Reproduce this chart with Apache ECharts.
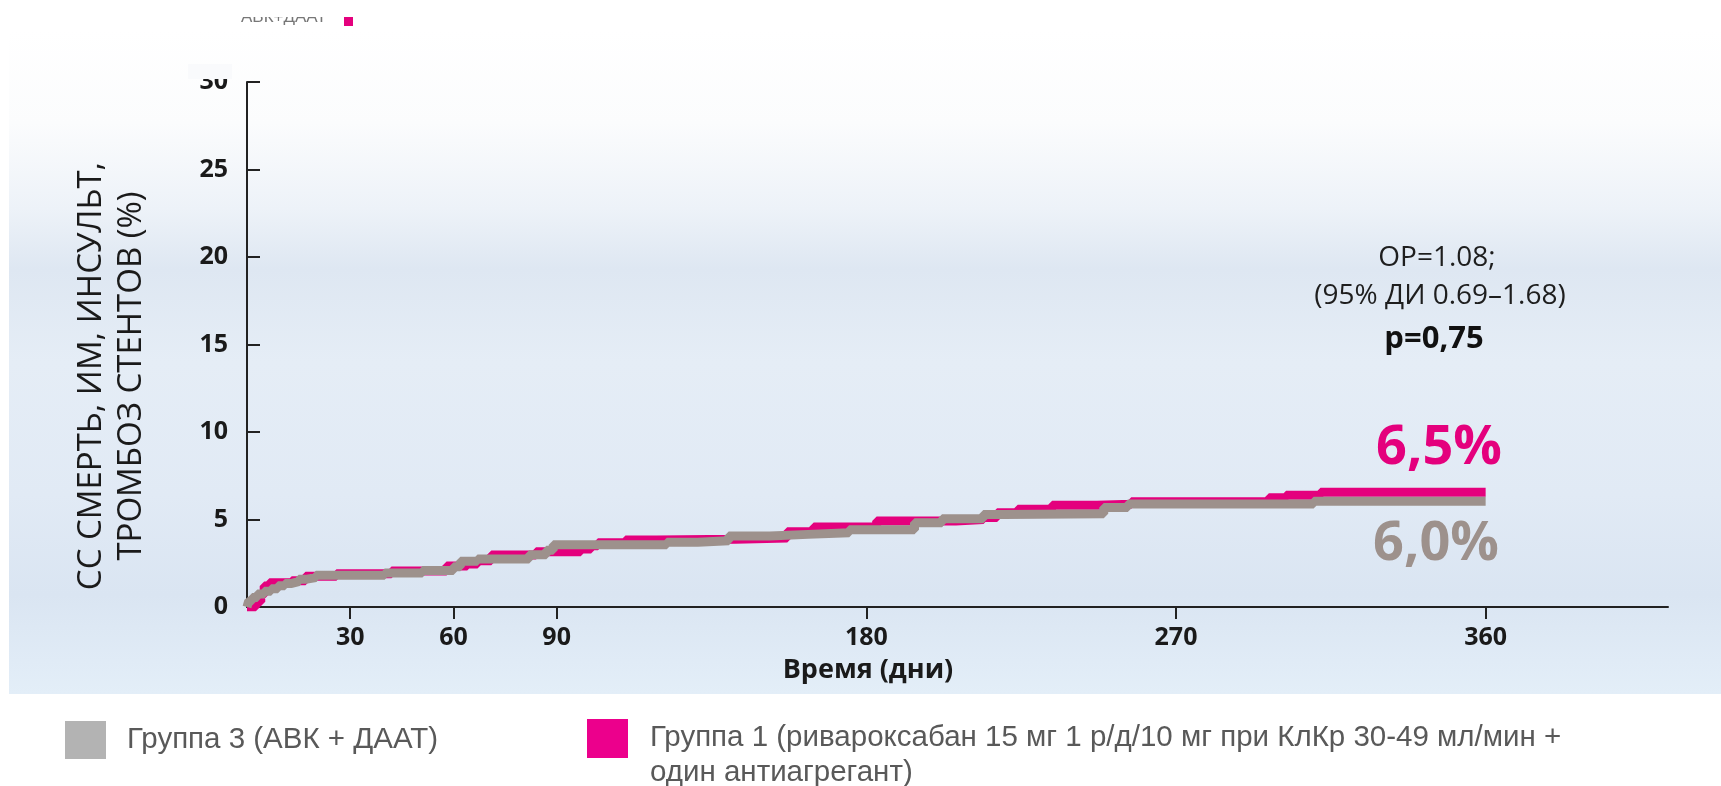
<!DOCTYPE html>
<html><head><meta charset="utf-8">
<script src="https://cdn.jsdelivr.net/npm/echarts@6/dist/echarts.min.js"></script>
<style>html,body{margin:0;padding:0;background:#fff}#c{width:1721px;height:786px}</style>
</head><body><div id="c"></div>
<script>
// Group 3 (gray) Kaplan–Meier steps: day -> %
const daysG3 = [0, 0.5, 1.5, 3, 5, 7, 9, 11, 13, 15, 17, 20, 40, 51, 60, 62, 67, 82, 87, 89, 122, 131, 140, 152, 163, 175, 194, 202, 214, 220, 249, 256, 310, 360];
const valsG3 = [0, 0.35, 0.55, 0.75, 0.9, 1.05, 1.22, 1.35, 1.45, 1.58, 1.68, 1.82, 1.95, 2.08, 2.3, 2.62, 2.75, 2.98, 3.25, 3.56, 3.7, 3.78, 4.06, 4.15, 4.24, 4.42, 4.81, 5.05, 5.28, 5.33, 5.69, 5.88, 6.05, 6.05];
// Group 1 (pink)
const daysG1 = [0, 2.5, 4, 5, 6.5, 13, 17, 26, 42, 58, 64, 67, 71, 84, 97, 100, 102, 110, 119, 142, 157, 164.7, 183, 206, 214, 218, 224, 234, 247, 257, 297, 302, 312, 360];
const valsG1 = [0, 0.3, 0.7, 1.2, 1.38, 1.5, 1.76, 1.9, 2.06, 2.34, 2.46, 2.65, 2.97, 3.16, 3.31, 3.5, 3.67, 3.83, 3.87, 3.94, 4.3, 4.57, 4.91, 5.0, 5.12, 5.39, 5.58, 5.81, 5.87, 6.02, 6.24, 6.39, 6.56, 6.56];
const xTicks = [30, 60, 90, 180, 270, 360];
const nameG3 = 'Группа 3 (АВК + ДААТ)';
const nameG1 = 'Группа 1 (ривароксабан 15 мг 1 р/д/10 мг при КлКр 30-49 мл/мин +\nодин антиагрегант)';
const endLabelG1 = '6,5%';
const endLabelG3 = '6,0%';
const statLines = ['ОР=1.08;', '(95% ДИ 0.69–1.68)', 'p=0,75'];
const yTitle = 'СС СМЕРТЬ, ИМ, ИНСУЛЬТ,\nТРОМБОЗ СТЕНТОВ (%)';
const xTitle = 'Время (дни)';

const PINK = '#e4007d', GRAY = '#9d918c';
const zip = (a, b) => a.map((d, i) => [d, b[i]]);
const chart = echarts.init(document.getElementById('c'), null, {renderer: 'canvas'});
const tickFont = {fontSize: 25, fontWeight: 'bold', color: '#1a1a1a', fontFamily: 'Open Sans'};
chart.setOption({
  animation: false,
  backgroundColor: '#ffffff',
  grid: {left: 247, right: 53, top: 82, bottom: 179},
  xAxis: {
    type: 'value', min: 0, max: 413,
    axisLine: {show: true, lineStyle: {color: '#222', width: 2}},
    axisTick: {show: true, inside: false, length: 12, customValues: xTicks, lineStyle: {color: '#222', width: 2}},
    axisLabel: Object.assign({customValues: xTicks, margin: 18}, tickFont),
    splitLine: {show: false}
  },
  yAxis: {
    type: 'value', min: 0, max: 30, interval: 5,
    axisLine: {show: true, lineStyle: {color: '#222', width: 2}},
    axisTick: {show: true, inside: true, length: 13, lineStyle: {color: '#222', width: 2}},
    axisLabel: Object.assign({margin: 19}, tickFont),
    splitLine: {show: false}
  },
  series: [
    {name: nameG1, type: 'line', step: 'end', symbol: 'none', z: 3,
     lineStyle: {color: PINK, width: 9}, data: zip(daysG1, valsG1)},
    {name: nameG3, type: 'line', step: 'end', symbol: 'none', z: 4,
     lineStyle: {color: GRAY, width: 9}, data: zip(daysG3, valsG3)}
  ],
  graphic: [
    {type: 'rect', z: -10, silent: true, shape: {x: 9, y: 30, width: 1712, height: 664},
     style: {fill: new echarts.graphic.LinearGradient(0, 0, 0, 1, [
       {offset: 0, color: '#ffffff'}, {offset: 0.14, color: '#fbfcfd'},
       {offset: 0.27, color: '#edf2f8'}, {offset: 0.36, color: '#dee7f2'},
       {offset: 0.5, color: '#e5edf6'}, {offset: 0.7, color: '#e1eaf5'},
       {offset: 0.85, color: '#dae5f2'}, {offset: 1, color: '#e3eef8'}])}},
    // cut-off fragment at top
    {type: 'text', z: 1, x: 241, y: 9, style: {text: 'АВК+ДААТ', fontSize: 17, fill: '#777', fontFamily: 'Liberation Sans'}},
    {type: 'rect', z: 1, shape: {x: 344, y: 14, width: 9, height: 12}, style: {fill: PINK}},
    {type: 'rect', z: 50, shape: {x: 0, y: 0, width: 1721, height: 17}, style: {fill: '#ffffff'}},
    {type: 'rect', z: 50, shape: {x: 188, y: 64, width: 44, height: 15}, style: {fill: '#f9fafc'}},
    // y title
    {type: 'text', x: 112, y: 376, rotation: Math.PI / 2,
     style: {text: yTitle, fontSize: 33, lineHeight: 40, fill: '#1a1a1a', fontFamily: 'Open Sans', align: 'center', verticalAlign: 'middle'}},
    // x title
    {type: 'text', x: 868, y: 670,
     style: {text: xTitle, fontSize: 27, fontWeight: 'bold', fill: '#1a1a1a', fontFamily: 'Open Sans', align: 'center', verticalAlign: 'middle'}},
    // stats
    {type: 'text', x: 1437, y: 258, style: {text: statLines[0], fontSize: 28, fill: '#1e1e1e', fontFamily: 'Open Sans', align: 'center', verticalAlign: 'middle'}},
    {type: 'text', x: 1440, y: 296, style: {text: statLines[1], fontSize: 28, fill: '#1e1e1e', fontFamily: 'Open Sans', align: 'center', verticalAlign: 'middle'}},
    {type: 'text', x: 1434, y: 339, style: {text: statLines[2], fontSize: 31, fontWeight: 'bold', fill: '#111', fontFamily: 'Open Sans', align: 'center', verticalAlign: 'middle'}},
    {type: 'text', x: 1439, y: 449, style: {text: endLabelG1, fontSize: 54, fontWeight: 'bold', fill: PINK, fontFamily: 'Open Sans', align: 'center', verticalAlign: 'middle'}},
    {type: 'text', x: 1436, y: 545, style: {text: endLabelG3, fontSize: 54, fontWeight: 'bold', fill: GRAY, fontFamily: 'Open Sans', align: 'center', verticalAlign: 'middle'}},
    // legend
    {type: 'rect', shape: {x: 65, y: 721, width: 41, height: 38}, style: {fill: '#b3b3b3'}},
    {type: 'text', x: 127, y: 740, style: {text: nameG3, fontSize: 29.5, fill: '#595959', fontFamily: 'Liberation Sans', verticalAlign: 'middle'}},
    {type: 'rect', shape: {x: 587, y: 719, width: 41, height: 39}, style: {fill: '#ec008c'}},
    {type: 'text', x: 650, y: 720, style: {text: nameG1, fontSize: 29.5, lineHeight: 35, fill: '#595959', fontFamily: 'Liberation Sans', verticalAlign: 'top'}}
  ]
});
</script></body></html>
